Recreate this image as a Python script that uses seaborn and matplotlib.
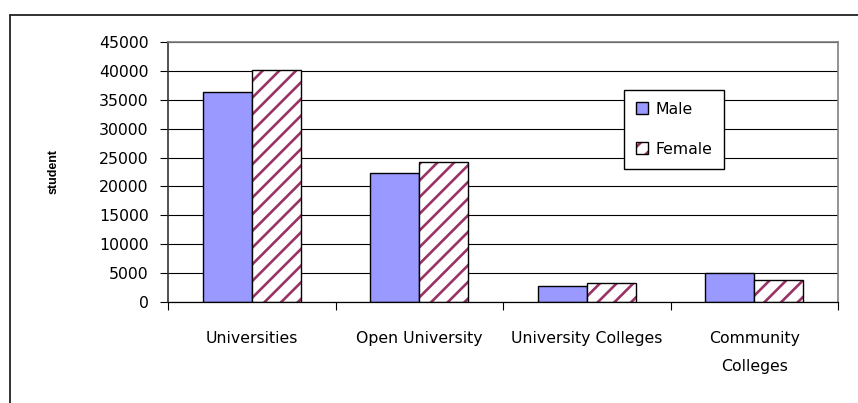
import matplotlib
matplotlib.use("Agg")
import matplotlib.pyplot as plt
import seaborn as sns
import pandas as pd
from matplotlib.patches import Patch, Rectangle
from matplotlib.lines import Line2D
from matplotlib.legend_handler import HandlerTuple
from matplotlib.ticker import FixedLocator

categories = ["Universities", "Open University", "University Colleges", "Community\nColleges"]
male = [36400, 22400, 2750, 5000]
female = [40200, 24200, 3300, 3800]
series = ["Male", "Female"]
yticks = [0, 5000, 10000, 15000, 20000, 25000, 30000, 35000, 40000, 45000]

sns.set_theme(style="white")
plt.rcParams["font.family"] = ["DejaVu Sans"]
plt.rcParams["hatch.linewidth"] = 1.9
plt.rcParams["text.color"] = "black"
plt.rcParams["xtick.color"] = "black"
plt.rcParams["ytick.color"] = "black"
plt.rcParams["axes.labelcolor"] = "black"

df = pd.DataFrame({
    "category": categories * 2,
    "sex": ["Male"] * len(categories) + ["Female"] * len(categories),
    "value": male + female,
})

fig = plt.figure(figsize=(8.58, 4.03), dpi=100)
ax = fig.add_axes([168 / 858, 1 - 302 / 403, (838 - 168) / 858, (302 - 42) / 403])

sns.barplot(data=df, x="category", y="value", hue="sex", hue_order=series,
            order=categories, palette=["#9999FF", "white"], edgecolor="black",
            linewidth=1.0, width=0.585, ax=ax, legend=False, errorbar=None,
            saturation=1)

maroon = "#993366"
for bar in ax.containers[1]:
    bar.set_edgecolor(maroon)
    bar.set_hatch("//")
    bar.set_linewidth(0)
    ax.add_patch(Rectangle(bar.get_xy(), bar.get_width(), bar.get_height(),
                           fill=False, edgecolor="black", linewidth=1.0, zorder=bar.get_zorder() + 0.1))

ax.set_ylim(0, 45000)
ax.set_xlim(-0.5, len(categories) - 0.5)
ax.set_yticks(yticks)
ax.set_yticklabels([str(v) for v in yticks], fontsize=11.3)
ax.yaxis.grid(True, color="black", linewidth=0.8)
ax.set_axisbelow(True)

ax.set_xticks(range(len(categories)))
ax.set_xticklabels(categories, fontsize=11.3, linespacing=2.05)
ax.tick_params(axis="x", which="major", length=0, pad=21)
ax.xaxis.set_minor_locator(FixedLocator([i - 0.5 for i in range(len(categories) + 1)]))
ax.tick_params(axis="x", which="minor", length=6, width=0.8, color="black", direction="out", bottom=True)
ax.tick_params(axis="y", which="major", length=6, width=0.8, color="black", direction="out", left=True, pad=8)

ax.set_xlabel("")
ax.set_ylabel("student", fontsize=9, fontweight="bold", family=["Liberation Sans"])
ax.yaxis.set_label_coords((60 - 168) / 670, 0.5)

for side in ["top", "right"]:
    ax.spines[side].set_color("#808080")
    ax.spines[side].set_linewidth(1.2)
ax.spines["left"].set_color("#333333")
ax.spines["left"].set_linewidth(1.2)
ax.spines["bottom"].set_color("black")
ax.spines["bottom"].set_linewidth(0.9)

male_h = Patch(facecolor="#9999FF", edgecolor="black", linewidth=1.0)
fem_h = (Patch(facecolor="white", edgecolor=maroon, hatch="//", linewidth=0),
         Patch(fill=False, edgecolor="black", linewidth=1.0))
leg = ax.legend([male_h, fem_h], series, handler_map={tuple: HandlerTuple(ndivide=1, pad=0)},
                loc="upper left", bbox_to_anchor=((624 - 168) / 670, (302 - 90) / 260),
                borderaxespad=0, fontsize=11.3, frameon=True, fancybox=False,
                edgecolor="black", framealpha=1, handlelength=0.8, handleheight=0.8,
                handletextpad=0.45, labelspacing=1.6, borderpad=0.75)
leg.get_frame().set_linewidth(1.0)

# outer chart frame (top and left edges)
fig.add_artist(Line2D([10 / 858, 1.0], [1 - 15 / 403, 1 - 15 / 403], color="#222222", linewidth=1.3))
fig.add_artist(Line2D([10 / 858, 10 / 858], [0, 1 - 15 / 403], color="#222222", linewidth=1.3))

fig.savefig("out.png", dpi=100)
